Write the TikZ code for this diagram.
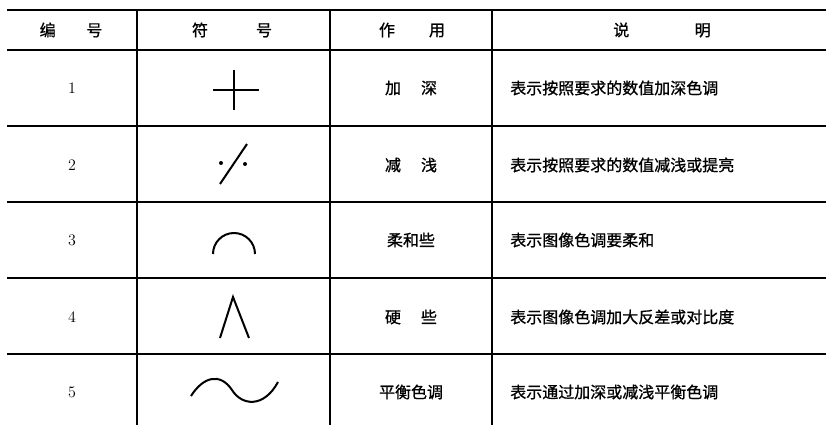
\documentclass[tikz,border=0pt]{standalone}
\usepackage{fontspec}
\newfontfamily\cjk[FakeBold=1]{Noto Sans CJK SC}
\tikzstyle{line} = [draw, line width=0.8pt]
\tikzstyle{sign} = [draw, line width=1.5pt]
\tikzstyle{txt} = [font=\cjk\fontsize{12}{14}\selectfont, inner sep=0pt]
\tikzstyle{num} = [font=\fontsize{12}{14}\selectfont, inner sep=0pt]

\begin{document}
\begin{tikzpicture}[x=0.75pt,y=-0.75pt]
\useasboundingbox (0,0) rectangle (826,425);
%lines
\path [line,line width=1.4pt] (7,10) -- (826,10);
\path [line] (7,50) -- (826,50);
\path [line] (7,126) -- (826,126);
\path [line] (7,202) -- (826,202);
\path [line] (7,278) -- (826,278);
\path [line] (7,354) -- (826,354);
\path [line] (137,10) -- (137,425);
\path [line] (330,10) -- (330,425);
\path [line] (492,10) -- (492,425);

%header
\node[txt] (bianhao) at (71,30) {编\hspace{23pt}号};
\node[txt] (fuhao) at (232,30) {符\hspace{36pt}号};
\node[txt] (zuoyong) at (412,30) {作\hspace{25.5pt}用};
\node[txt] (shuoming) at (662,30) {说\hspace{49pt}明};

%numbers
\node[num] (n1) at (72,88) {1};
\node[num] (n2) at (72,165) {2};
\node[num] (n3) at (72,240) {3};
\node[num] (n4) at (72,317) {4};
\node[num] (n5) at (72,392) {5};

%symbols
\path [sign] (213,90) -- (259,90);% deepen
\path [sign] (234,70) -- (234,110);
\path [sign] (220,184) -- (247,144);% lighten
\fill (221,163) circle (2);
\fill (245,164) circle (2);
\path [sign] (213,254) arc (180:360:21);% softer
\path [sign] (220,338) -- (233,297) -- (249,338);% harder
\path [sign] (191,396) .. controls (203,377) and (220,372) .. (232,390)
  .. controls (242,406) and (264,408) .. (278,382);% balance

%effect
\node[txt] (e1) at (411,88) {加\hspace{15pt}深};
\node[txt] (e2) at (411,165) {减\hspace{15pt}浅};
\node[txt] (e3) at (411,240) {柔和些};
\node[txt] (e4) at (411,317) {硬\hspace{15pt}些};
\node[txt] (e5) at (411,392) {平衡色调};

%notes
\node[txt,anchor=west] (d1) at (510,88) {表示按照要求的数值加深色调};
\node[txt,anchor=west] (d2) at (510,165) {表示按照要求的数值减浅或提亮};
\node[txt,anchor=west] (d3) at (510,240) {表示图像色调要柔和};
\node[txt,anchor=west] (d4) at (510,317) {表示图像色调加大反差或对比度};
\node[txt,anchor=west] (d5) at (510,392) {表示通过加深或减浅平衡色调};
\end{tikzpicture}
\end{document}
